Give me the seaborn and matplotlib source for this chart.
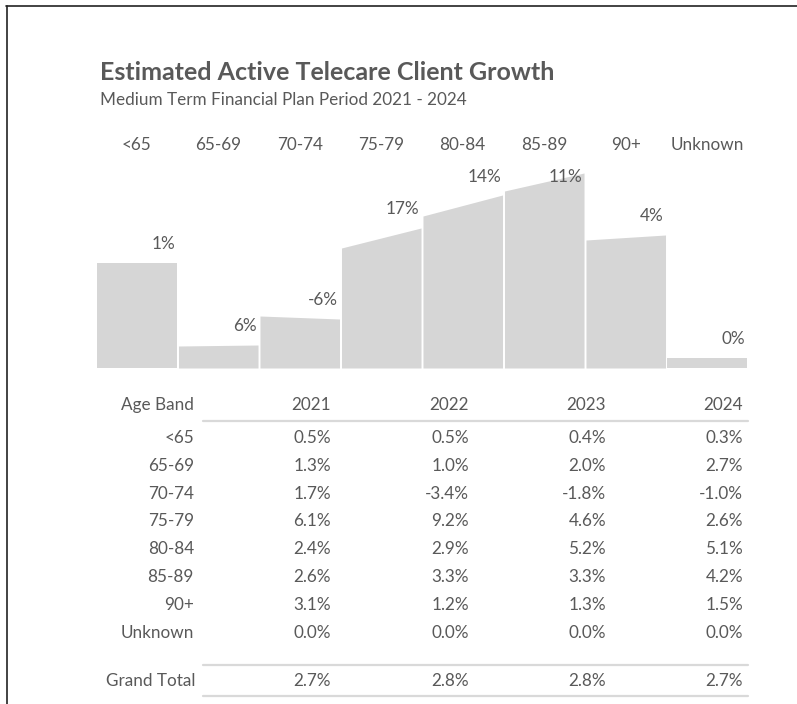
import matplotlib
matplotlib.use("Agg")
import matplotlib.pyplot as plt
import seaborn as sns
from matplotlib.lines import Line2D

# ---------------- data ----------------
age_bands = ["<65", "65-69", "70-74", "75-79", "80-84", "85-89", "90+", "Unknown"]
# relative client volumes (chart units) at start (2021) and end (2024) of the period
clients_start = [105, 22, 52, 120, 152, 177, 128, 10]
clients_end = [105, 23, 49, 140, 173, 195, 133, 10]
growth_labels = ["1%", "6%", "-6%", "17%", "14%", "11%", "4%", "0%"]

years = ["2021", "2022", "2023", "2024"]
growth_2021 = ["0.5%", "1.3%", "1.7%", "6.1%", "2.4%", "2.6%", "3.1%", "0.0%"]
growth_2022 = ["0.5%", "1.0%", "-3.4%", "9.2%", "2.9%", "3.3%", "1.2%", "0.0%"]
growth_2023 = ["0.4%", "2.0%", "-1.8%", "4.6%", "5.2%", "3.3%", "1.3%", "0.0%"]
growth_2024 = ["0.3%", "2.7%", "-1.0%", "2.6%", "5.1%", "4.2%", "1.5%", "0.0%"]
grand_total = ["2.7%", "2.8%", "2.8%", "2.7%"]

title = "Estimated Active Telecare Client Growth"
subtitle = "Medium Term Financial Plan Period 2021 - 2024"

# ---------------- style ----------------
sns.set_theme(style="white")
plt.rcParams["font.family"] = ["Lato", "DejaVu Sans"]

W, H = 797, 704
TXT = "#595959"
FILL = "#d6d6d6"
LINE = "#d9d9d9"
FS = 12.3

fig = plt.figure(figsize=(W / 100, H / 100), dpi=100)
fig.patch.set_facecolor("white")


def fx(px):
    return px / W


def fy(py):
    return 1 - py / H


# frame lines (top and left)
fig.add_artist(Line2D([fx(6), 1], [fy(5.5), fy(5.5)], color="#222222", lw=1.2, transform=fig.transFigure))
fig.add_artist(Line2D([fx(6.5), fx(6.5)], [fy(5.5), 0], color="#222222", lw=1.2, transform=fig.transFigure))

# titles
fig.text(fx(100), fy(72), title, ha="left", va="center", fontsize=18, fontweight="bold", color=TXT)
fig.text(fx(100), fy(100), subtitle, ha="left", va="center", fontsize=12.3, color=TXT)

# ---------------- chart ----------------
ax_left, ax_right, ax_base, ax_top = 96, 748, 368, 163
ax = fig.add_axes([fx(ax_left), fy(ax_base), fx(ax_right - ax_left), (ax_base - ax_top) / H])
ax.set_xlim(0, len(age_bands))
ax.set_ylim(0, ax_base - ax_top)
gap = 0.012
for i, (s, e) in enumerate(zip(clients_start, clients_end)):
    ax.fill_between([i + gap, i + 1 - gap], [0, 0], [s, e], color=FILL, linewidth=0)
    ty = min(e + 19, 191)
    ax.text(i + 1 - 0.03, ty, growth_labels[i], ha="right", va="center",
            fontsize=FS, color=TXT, clip_on=False)

ax.set_xticks([i + 0.5 for i in range(len(age_bands))])
ax.set_xticklabels(age_bands)
ax.set_yticks([])
ax.tick_params(axis="x", top=False, bottom=False, labeltop=True, labelbottom=False,
               length=0, pad=7, labelsize=FS, labelcolor=TXT)
sns.despine(ax=ax, left=True, bottom=True, top=True, right=True)
ax.patch.set_alpha(0)

# ---------------- table ----------------
label_right = 194
col_right = [331, 469, 606, 743]
header_y = 405
row_y = [438, 466, 494, 521, 549, 577, 605, 633]
total_y = 681

fig.text(fx(label_right), fy(header_y), "Age Band", ha="right", va="center", fontsize=FS, color=TXT)
for x, yr in zip(col_right, years):
    fig.text(fx(x), fy(header_y), yr, ha="right", va="center", fontsize=FS, color=TXT)

cols = [growth_2021, growth_2022, growth_2023, growth_2024]
for r, band in enumerate(age_bands):
    fig.text(fx(label_right), fy(row_y[r]), band, ha="right", va="center", fontsize=FS, color=TXT)
    for x, col in zip(col_right, cols):
        fig.text(fx(x), fy(row_y[r]), col[r], ha="right", va="center", fontsize=FS, color=TXT)

fig.text(fx(label_right + 2), fy(total_y), "Grand Total", ha="right", va="center", fontsize=FS, color=TXT)
for x, v in zip(col_right, grand_total):
    fig.text(fx(x), fy(total_y), v, ha="right", va="center", fontsize=FS, color=TXT)

for ly in (421, 665, 696):
    fig.add_artist(Line2D([fx(203), fx(748)], [fy(ly), fy(ly)], color=LINE, lw=1.6,
                          transform=fig.transFigure))

fig.savefig("out.png", dpi=100, facecolor="white")
